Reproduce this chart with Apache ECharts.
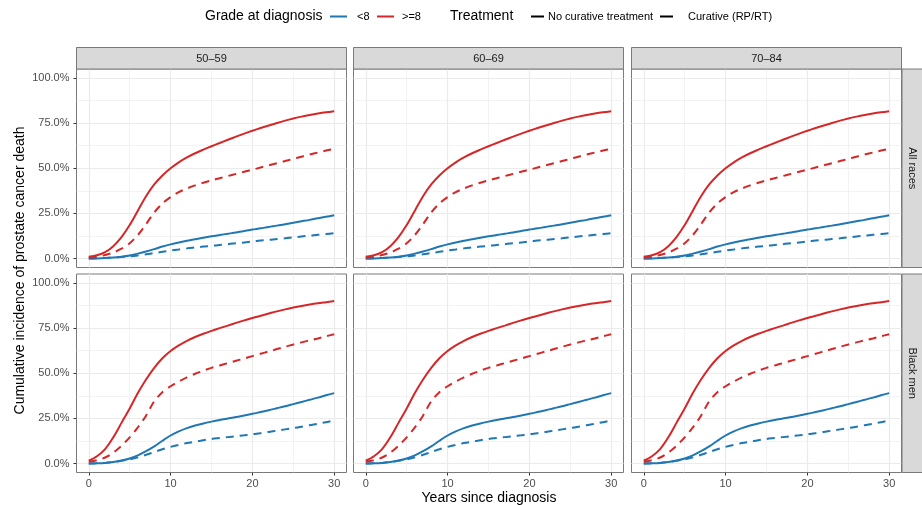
<!DOCTYPE html>
<html>
<head>
<meta charset="utf-8">
<script src="https://cdn.jsdelivr.net/npm/echarts@6/dist/echarts.min.js"></script>
<style>html,body{margin:0;padding:0;background:#fff}#c{width:922px;height:505px}</style>
</head>
<body>
<div id="c"></div>
<script>
// ---- data ----
const ageGroups = ['50–59', '60–69', '70–84'];
const races = ['All races', 'Black men'];
const years = [0, 1, 2, 3, 4, 5, 6, 7, 8, 9, 10, 11, 12, 13, 14, 15, 16, 17, 18, 19, 20, 21, 22, 23, 24, 25, 26, 27, 28, 29, 30];

// All races (cumulative incidence, %)
const allHighNoCur  = [1, 1.8, 3.5, 6.8, 11.8, 18.5, 26.5, 34.5, 41, 46, 50, 53.3, 56, 58.3, 60.3, 62.2, 64, 65.8, 67.5, 69.2, 70.8, 72.3, 73.7, 75.1, 76.4, 77.6, 78.6, 79.5, 80.3, 81, 81.6];
const allHighCur    = [0.5, 1, 1.9, 3.3, 5.4, 8.4, 13, 19, 25.5, 30.5, 34, 36.8, 38.8, 40.5, 42, 43.3, 44.5, 45.7, 46.9, 48.1, 49.2, 50.4, 51.6, 52.8, 54, 55.2, 56.4, 57.6, 58.7, 59.8, 60.8];
const allLowNoCur   = [0, 0.05, 0.2, 0.5, 1, 1.7, 2.7, 3.9, 5.2, 6.6, 7.8, 8.9, 9.8, 10.6, 11.5, 12.3, 13, 13.7, 14.4, 15.2, 16, 16.7, 17.5, 18.2, 19, 19.8, 20.6, 21.4, 22.3, 23.1, 24];
const allLowCur     = [0, 0.1, 0.3, 0.5, 0.8, 1.2, 1.7, 2.3, 3, 3.7, 4.4, 5, 5.6, 6.1, 6.6, 7, 7.5, 7.9, 8.4, 8.9, 9.4, 9.9, 10.3, 10.8, 11.2, 11.7, 12.2, 12.6, 13.1, 13.5, 14];

// Black men
const blackHighNoCur = [1.5, 4, 8, 14.5, 22.5, 30.5, 39, 46.5, 53, 58.3, 62.3, 65.4, 68, 70.1, 71.9, 73.5, 75, 76.4, 77.9, 79.3, 80.6, 81.9, 83.1, 84.3, 85.4, 86.4, 87.3, 88.1, 88.8, 89.4, 90];
const blackHighCur   = [1, 1.8, 3.3, 6, 9.8, 14.5, 20, 26.5, 34.5, 39.5, 42.8, 45.4, 47.7, 49.7, 51.4, 53, 54.3, 55.6, 56.9, 58.2, 59.5, 60.8, 62.1, 63.4, 64.7, 65.9, 67.1, 68.2, 69.3, 70.5, 71.6];
const blackLowNoCur  = [0, 0.1, 0.3, 0.8, 1.6, 2.8, 4.5, 6.8, 9.5, 12.6, 15.5, 17.8, 19.6, 21, 22.2, 23.2, 24.1, 24.9, 25.7, 26.6, 27.5, 28.5, 29.5, 30.6, 31.7, 32.9, 34.1, 35.3, 36.5, 37.8, 39];
const blackLowCur    = [0, 0.1, 0.3, 0.8, 1.5, 2.3, 3.4, 4.8, 6.4, 7.9, 9.2, 10.3, 11.3, 12.1, 12.9, 13.6, 14.1, 14.6, 15.1, 15.6, 16.2, 16.8, 17.5, 18.2, 18.9, 19.6, 20.4, 21.2, 22, 22.9, 23.8];

const xTicks = [0, 10, 20, 30];
const xMinor = [5, 15, 25];
const yTicks = [0, 25, 50, 75, 100];
const yMinor = [12.5, 37.5, 62.5, 87.5];

const raceData = [
  {lowNo: allLowNoCur, lowCur: allLowCur, highNo: allHighNoCur, highCur: allHighCur},
  {lowNo: blackLowNoCur, lowCur: blackLowCur, highNo: blackHighNoCur, highCur: blackHighCur}
];

// ---- styles / layout ----
const FONT = "'Liberation Sans', Arial, Helvetica, sans-serif";
const BLUE = '#1f77b4', RED = '#d62728';
const colLeft = [76.5, 353.5, 631.5];
const colW = 270;
const rowTop = [69, 274];
const rowH = 198.5;
const DASH = [8, 6];

const grids = [], xAxes = [], yAxes = [], series = [];
let gi = 0;
for (let r = 0; r < 2; r++) {
  for (let c = 0; c < 3; c++) {
    grids.push({left: colLeft[c], top: rowTop[r], width: colW, height: rowH,
      show: true, borderColor: '#7a7a7a', borderWidth: 1, backgroundColor: '#fff', containLabel: false});
    const bottom = r === 1, left = c === 0;
    xAxes.push({type: 'value', gridIndex: gi, min: -1.5, max: 31.5, position: 'bottom',
      axisLine: {show: false, onZero: false},
      axisTick: {show: bottom, customValues: xTicks, length: 3, lineStyle: {color: '#333', width: 1}},
      axisLabel: {show: bottom, customValues: xTicks, color: '#4d4d4d', fontSize: 11, fontFamily: FONT, margin: 6},
      splitLine: {show: false}});
    yAxes.push({type: 'value', gridIndex: gi, min: -5, max: 105, position: 'left',
      axisLine: {show: false, onZero: false},
      axisTick: {show: left, customValues: yTicks, length: 3, lineStyle: {color: '#333', width: 1}},
      axisLabel: {show: left, customValues: yTicks, color: '#4d4d4d', fontSize: 11, fontFamily: FONT, margin: 7,
        formatter: v => v.toFixed(1) + '%'},
      splitLine: {show: false}});
    // background grid lines via markLine
    const ml = [];
    xMinor.forEach(v => ml.push({xAxis: v, lineStyle: {color: '#ebebeb', width: 0.6, type: 'solid'}}));
    yMinor.forEach(v => ml.push({yAxis: v, lineStyle: {color: '#ebebeb', width: 0.6, type: 'solid'}}));
    xTicks.forEach(v => ml.push({xAxis: v, lineStyle: {color: '#ebebeb', width: 1.2, type: 'solid'}}));
    yTicks.forEach(v => ml.push({yAxis: v, lineStyle: {color: '#ebebeb', width: 1.2, type: 'solid'}}));
    series.push({type: 'line', xAxisIndex: gi, yAxisIndex: gi, data: [], z: 0, silent: true,
      markLine: {silent: true, z: 0, symbol: ['none', 'none'], label: {show: false}, animation: false, data: ml}});
    const d = raceData[r];
    const mk = (vals, color, dashed) => ({
      type: 'line', xAxisIndex: gi, yAxisIndex: gi, z: 6, smooth: 0.3, symbol: 'none',
      lineStyle: {color: color, width: 2, type: dashed ? DASH : 'solid', cap: 'butt'},
      data: years.map((t, k) => [t, vals[k]])
    });
    series.push(mk(d.lowCur, BLUE, true));
    series.push(mk(d.lowNo, BLUE, false));
    series.push(mk(d.highCur, RED, true));
    series.push(mk(d.highNo, RED, false));
    gi++;
  }
}

// strips, titles, legend
const graphic = [];
ageGroups.forEach((g, c) => {
  graphic.push({type: 'rect', shape: {x: colLeft[c], y: 47.5, width: colW, height: 21.5},
    style: {fill: '#d9d9d9', stroke: '#7a7a7a', lineWidth: 1}, z: 10});
  graphic.push({type: 'text', x: colLeft[c] + colW / 2, y: 58.5, z: 11,
    style: {text: g, fill: '#1a1a1a', font: '11px ' + FONT, textAlign: 'center', textVerticalAlign: 'middle'}});
});
races.forEach((rc, r) => {
  graphic.push({type: 'rect', shape: {x: 902, y: rowTop[r], width: 30, height: rowH},
    style: {fill: '#d9d9d9', stroke: '#7a7a7a', lineWidth: 1}, z: 10});
  graphic.push({type: 'text', x: 912.5, y: rowTop[r] + rowH / 2, rotation: -Math.PI / 2, z: 11,
    style: {text: rc, fill: '#1a1a1a', font: '11px ' + FONT, textAlign: 'center', textVerticalAlign: 'middle'}});
});
graphic.push({type: 'text', x: 489, y: 498, z: 11,
  style: {text: 'Years since diagnosis', fill: '#000', font: '14px ' + FONT, textAlign: 'center', textVerticalAlign: 'middle'}});
graphic.push({type: 'text', x: 20, y: 270.5, rotation: Math.PI / 2, z: 11,
  style: {text: 'Cumulative incidence of prostate cancer death', fill: '#000', font: '14px ' + FONT, textAlign: 'center', textVerticalAlign: 'middle'}});

const LY = 16.5;
const ltext = (x, t, size) => graphic.push({type: 'text', x: x, y: LY, z: 11,
  style: {text: t, fill: '#000', font: size + 'px ' + FONT, textAlign: 'left', textVerticalAlign: 'middle'}});
const lline = (x1, x2, color, dash) => graphic.push({type: 'line', z: 11,
  shape: {x1: x1, y1: LY, x2: x2, y2: LY}, style: {stroke: color, lineWidth: 2, lineDash: dash || null}});
ltext(205, 'Grade at diagnosis', 14);
lline(330, 347, BLUE);
ltext(357, '<8', 11);
lline(377, 394, RED);
ltext(402, '>=8', 11);
ltext(450, 'Treatment', 14);
lline(531, 544, '#000');
ltext(548, 'No curative treatment', 11);
lline(660, 673, '#000');
ltext(688, 'Curative (RP/RT)', 11);

const chart = echarts.init(document.getElementById('c'), null, {renderer: 'canvas'});
chart.setOption({
  animation: false,
  backgroundColor: '#fff',
  textStyle: {fontFamily: FONT},
  grid: grids, xAxis: xAxes, yAxis: yAxes, series: series, graphic: graphic
});
</script>
</body>
</html>
